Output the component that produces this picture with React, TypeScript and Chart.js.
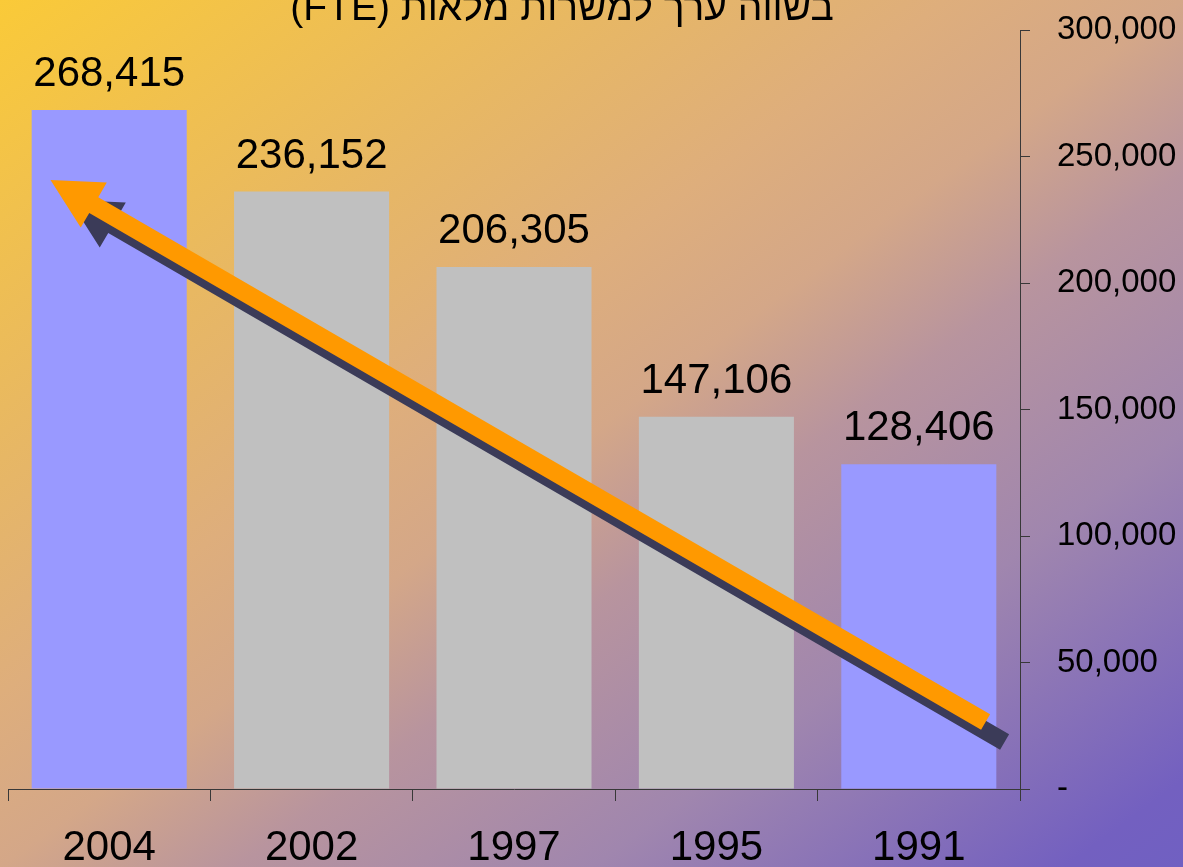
import React, { useEffect, useRef } from "react";
import { Chart, registerables } from "chart.js";

Chart.register(...registerables);

const categories = ["2004", "2002", "1997", "1995", "1991"];
const values = [268415, 236152, 206305, 147106, 128406];
const barColors = ["#9999FF", "#C0C0C0", "#C0C0C0", "#C0C0C0", "#9999FF"];
const yTicks = [0, 50000, 100000, 150000, 200000, 250000, 300000];
const titleText = "בשווה ערך למשרות מלאות (FTE)";
// trend arrow in data space: [category index, value]
const arrowTail = [4.33, 26500];
const arrowTip = [-0.29, 240700];

const FONT = "'Liberation Sans', Arial, sans-serif";

const bgPlugin = {
  id: "bg",
  beforeDraw(chart: any) {
    const { ctx, width, height } = chart;
    const t = (2 * width * height) / (width * width + height * height);
    const g = ctx.createLinearGradient(0, 0, height * t, width * t);
    g.addColorStop(0, "#FACA38");
    g.addColorStop(0.25, "#E8B862");
    g.addColorStop(0.4, "#DEAE7C");
    g.addColorStop(0.5, "#D4A788");
    g.addColorStop(0.6, "#B8949E");
    g.addColorStop(0.75, "#A086AE");
    g.addColorStop(0.95, "#7360C0");
    g.addColorStop(1, "#7060C2");
    ctx.save();
    ctx.fillStyle = g;
    ctx.fillRect(0, 0, width, height);
    ctx.restore();
  },
};

function drawArrow(ctx: any, x1: number, y1: number, x2: number, y2: number, color: string) {
  const dx = x2 - x1;
  const dy = y2 - y1;
  const len = Math.hypot(dx, dy);
  const ux = dx / len;
  const uy = dy / len;
  const px = -uy;
  const py = ux;
  const headLen = 50;
  const headHalf = 26;
  const shaftHalf = 9;
  const bx = x2 - ux * headLen;
  const by = y2 - uy * headLen;
  ctx.beginPath();
  ctx.moveTo(x1 + px * shaftHalf, y1 + py * shaftHalf);
  ctx.lineTo(bx + px * shaftHalf, by + py * shaftHalf);
  ctx.lineTo(bx + px * headHalf, by + py * headHalf);
  ctx.lineTo(x2, y2);
  ctx.lineTo(bx - px * headHalf, by - py * headHalf);
  ctx.lineTo(bx - px * shaftHalf, by - py * shaftHalf);
  ctx.lineTo(x1 - px * shaftHalf, y1 - py * shaftHalf);
  ctx.closePath();
  ctx.fillStyle = color;
  ctx.fill();
}

const overlayPlugin = {
  id: "overlay",
  afterDatasetsDraw(chart: any) {
    const { ctx } = chart;
    const xs = chart.scales.x;
    const ys = chart.scales.y;
    // value labels
    const meta = chart.getDatasetMeta(0);
    ctx.save();
    ctx.font = `42px ${FONT}`;
    ctx.fillStyle = "#000000";
    ctx.textAlign = "center";
    ctx.textBaseline = "alphabetic";
    meta.data.forEach((bar: any, i: number) => {
      ctx.fillText(values[i].toLocaleString("en-US"), bar.x, bar.y - 24);
    });
    // arrow
    const x1 = xs.getPixelForValue(arrowTail[0]);
    const y1 = ys.getPixelForValue(arrowTail[1]);
    const x2 = xs.getPixelForValue(arrowTip[0]);
    const y2 = ys.getPixelForValue(arrowTip[1]);
    drawArrow(ctx, x1 + 19, y1 + 20, x2 + 19, y2 + 20, "#3B3B58");
    drawArrow(ctx, x1, y1, x2, y2, "#FF9900");
    // title (clipped at top)
    ctx.font = `39px ${FONT}`;
    ctx.fillStyle = "#000000";
    ctx.direction = "rtl";
    ctx.textAlign = "center";
    ctx.fillText(titleText, 562, 20);
    ctx.restore();
  },
};

export default function App() {
  const ref = useRef<HTMLCanvasElement | null>(null);
  useEffect(() => {
    if (!ref.current) return;
    const chart = new Chart(ref.current, {
      type: "bar",
      data: {
        labels: categories,
        datasets: [
          {
            data: values,
            backgroundColor: barColors,
            borderWidth: 0,
            categoryPercentage: 1,
            barPercentage: 0.766,
          },
        ],
      },
      options: {
        animation: false,
        responsive: false,
        events: [],
        layout: { padding: { left: 8, top: 30, right: 0, bottom: 0 } },
        plugins: { legend: { display: false }, tooltip: { enabled: false } },
        scales: {
          x: {
            offset: true,
            grid: {
              display: true,
              drawOnChartArea: false,
              drawTicks: true,
              tickLength: 12,
              color: "#383838",
              offset: true,
            },
            border: { display: true, color: "#383838", width: 1 },
            ticks: {
              color: "#000000",
              font: { family: FONT, size: 42 },
              padding: 22,
              maxRotation: 0,
              autoSkip: false,
            },
            afterFit(scale: any) {
              scale.height = 78;
              scale.paddingLeft = 0;
              scale.paddingRight = 0;
            },
          },
          y: {
            position: "right",
            min: 0,
            max: 300000,
            afterBuildTicks(scale: any) {
              scale.ticks = yTicks.map((v) => ({ value: v }));
            },
            grid: {
              display: true,
              drawOnChartArea: false,
              drawTicks: true,
              tickLength: 10,
              color: "#383838",
            },
            border: { display: true, color: "#383838", width: 1 },
            ticks: {
              color: "#000000",
              font: { family: FONT, size: 33 },
              padding: 27,
              callback: (v: any) => (Number(v) === 0 ? "-" : Number(v).toLocaleString("en-US")),
            },
            afterFit(scale: any) {
              scale.width = 163;
              scale.paddingTop = 0;
              scale.paddingBottom = 0;
            },
          },
        },
      },
      plugins: [bgPlugin, overlayPlugin],
    });
    return () => chart.destroy();
  }, []);
  return (
    <canvas
      ref={ref}
      width={1183}
      height={867}
      style={{ position: "absolute", left: 0, top: 0, width: 1183, height: 867 }}
    />
  );
}
